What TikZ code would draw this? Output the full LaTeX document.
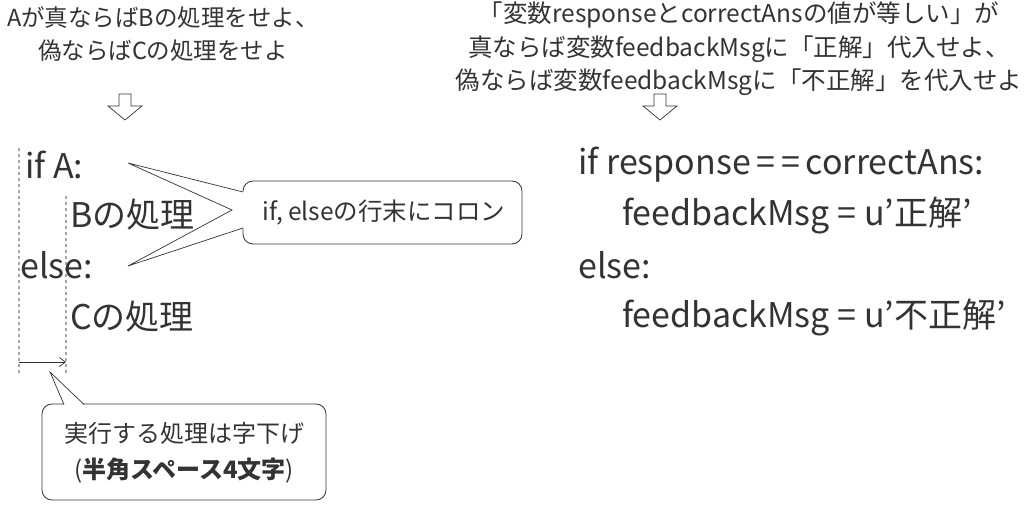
\documentclass[tikz,border=0pt]{standalone}
\usepackage{fontspec}
\setmainfont{Noto Sans CJK JP}
\usetikzlibrary{arrows.meta}
\definecolor{tx}{HTML}{333333}
\begin{document}
\begin{tikzpicture}[x=1pt,y=-1pt,
  code/.style={anchor=west,inner sep=0,text=tx,font=\fontsize{34}{40}\selectfont},
  top/.style={align=center,inner sep=0,text=tx,font=\fontsize{23.5}{33}\selectfont},
  call/.style={draw=tx,line width=0.8pt,rounded corners=10pt,fill=white},
  ln/.style={draw=tx,line width=0.7pt},
  guide/.style={draw=gray!70,dashed,line width=1.3pt}]
\useasboundingbox (0,0) rectangle (1031,505);
\node[top] (t1) at (163,34) {Aが真ならばBの処理をせよ、\\偽ならばCの処理をせよ};
\node[top,font=\fontsize{24.5}{33.5}\selectfont] (t2) at (739,49) {「変数responseとcorrectAnsの値が等しい」が\\真ならば変数feedbackMsgに「正解」代入せよ、\\偽ならば変数feedbackMsgに「不正解」を代入せよ};
\foreach \cx in {125,660}{
 \draw[ln,line join=miter] (\cx-6,94)--(\cx+6,94)--(\cx+6,106)--(\cx+17,106)--(\cx,120)--(\cx-17,106)--(\cx-6,106)--cycle;}
\draw[guide] (19,148)--(19,374);
\draw[guide] (66,196)--(66,374);
\draw[ln,-{Straight Barb[length=6pt,width=9pt]}] (19,362)--(66,362);
\node[code] (l1) at (25,165) {if A:};
\node[code] (l2) at (70,215) {Bの処理};
\node[code] (l3) at (20,265) {else:};
\node[code] (l4) at (70,317) {Cの処理};
\node[code] (r1) at (578,165) {if response\,=\,=\,correctAns:};
\node[code] (r2) at (622,215) {feedbackMsg = u’正解’};
\node[code] (r3) at (578,265) {else:};
\node[code] (r4) at (622,317) {feedbackMsg = u’不正解’};
% callout 1
\draw[call] (243,181) rectangle (522,244);
\node[inner sep=0,text=tx,font=\fontsize{24.5}{28}\selectfont] (c1) at (384,213) {if, elseの行末にコロン};
\fill[white] (244,192)--(128,163)--(232,210)--(128,266)--(244,228)--cycle;
\draw[ln] (243,192)--(128,163)--(232,210)--(128,266)--(243,228);
% callout 2
\draw[call] (42,404) rectangle (326,500);
\fill[white] (64,405)--(50,372)--(84,405)--cycle;
\draw[ln] (64,404.5)--(50,372)--(84,404.5);
\node[inner sep=0,align=center,text=tx,font=\fontsize{24}{36}\selectfont] (c2) at (184,453) {実行する処理は字下げ\\({\bfseries 半角スペース4文字})};
\end{tikzpicture}
\end{document}
